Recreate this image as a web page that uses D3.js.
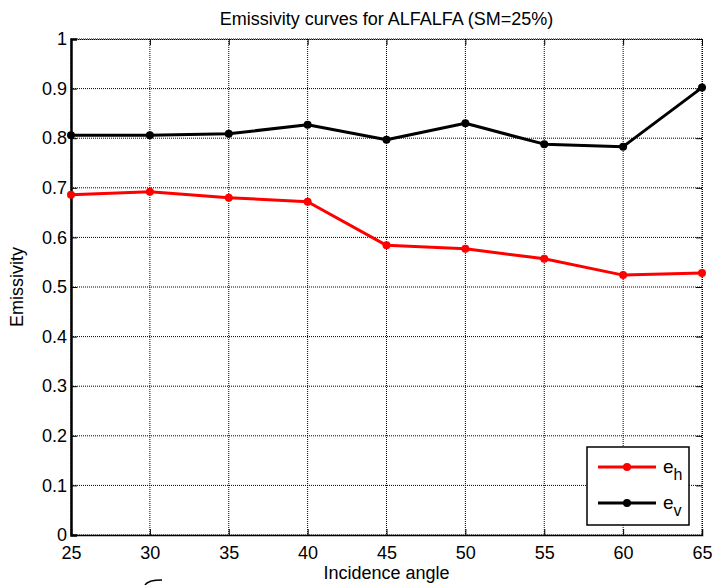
<!DOCTYPE html>
<html>
<head>
<meta charset="utf-8">
<script src="https://cdn.jsdelivr.net/npm/d3@7"></script>
<style>
  body { margin: 0; background: #fff; }
  svg { display: block; font-family: Arial, "Liberation Sans", sans-serif; }
</style>
</head>
<body>
<svg id="chart" width="712" height="585"></svg>
<script>
const angles = [25, 30, 35, 40, 45, 50, 55, 60, 65];
const eh = [0.686, 0.692, 0.680, 0.672, 0.584, 0.577, 0.557, 0.524, 0.528];
const ev = [0.806, 0.806, 0.809, 0.827, 0.797, 0.830, 0.788, 0.783, 0.902];
const xTicks = [25, 30, 35, 40, 45, 50, 55, 60, 65];
const yTicks = [0, 0.1, 0.2, 0.3, 0.4, 0.5, 0.6, 0.7, 0.8, 0.9, 1];
const seriesNames = ["h", "v"];
const seriesColors = ["#ff0000", "#000000"];

const FS = 18;
const svg = d3.select("#chart");
const L = 71, R = 702, T = 39, B = 535;
const x = d3.scaleLinear().domain([25, 65]).range([L, R]);
const y = d3.scaleLinear().domain([0, 1]).range([B, T]);

// grid
const g = svg.append("g");
g.selectAll(".vg").data(xTicks).join("line")
  .attr("x1", d => x(d)).attr("x2", d => x(d)).attr("y1", T).attr("y2", B)
  .attr("stroke", "#000").attr("stroke-width", 1).attr("stroke-dasharray", "1,1");
g.selectAll(".hg").data(yTicks).join("line")
  .attr("y1", d => y(d)).attr("y2", d => y(d)).attr("x1", L).attr("x2", R)
  .attr("stroke", "#000").attr("stroke-width", 1).attr("stroke-dasharray", "1,1");

// axes
const xAxis = d3.axisBottom(x).tickValues(xTicks).tickSize(-6).tickPadding(11).tickFormat(d3.format("d"));
const yAxis = d3.axisLeft(y).tickValues(yTicks).tickSize(-6).tickPadding(4)
  .tickFormat(d => d === 0 ? "0" : d === 1 ? "1" : d3.format(".1f")(d));
const xa = svg.append("g").attr("transform", `translate(0,${B})`).call(xAxis);
const ya = svg.append("g").attr("transform", `translate(${L},0)`).call(yAxis);
const xTop = svg.append("g").attr("transform", `translate(0,${T})`)
  .call(d3.axisTop(x).tickValues(xTicks).tickSize(-6).tickFormat(""));
const yRight = svg.append("g").attr("transform", `translate(${R},0)`)
  .call(d3.axisRight(y).tickValues(yTicks).tickSize(-6).tickFormat(""));
[xa, ya, xTop, yRight].forEach(a => {
  a.selectAll("text").attr("font-size", FS).attr("fill", "#000")
    .attr("font-family", "Arial, 'Liberation Sans', sans-serif");
  a.selectAll("line").attr("stroke", "#000");
  a.select(".domain").attr("stroke", "#000").attr("stroke-width", 1);
});
ya.select(".domain").attr("stroke-width", 2.5);
xa.select(".domain").attr("stroke-width", 1.5);
xTop.select(".domain").attr("stroke-dasharray", "1,1");
yRight.select(".domain").attr("stroke-dasharray", "1,1");

// lines
const line = d3.line().x((d, i) => x(angles[i])).y(d => y(d));
[eh, ev].forEach((vals, k) => {
  svg.append("path").datum(vals).attr("d", line)
    .attr("fill", "none").attr("stroke", seriesColors[k]).attr("stroke-width", 3)
    .attr("stroke-linejoin", "round");
  svg.append("g").selectAll("circle").data(vals).join("circle")
    .attr("cx", (d, i) => x(angles[i])).attr("cy", d => y(d)).attr("r", 4)
    .attr("fill", seriesColors[k]);
});

// title & labels
svg.append("text").attr("x", (L + R) / 2).attr("y", 25).attr("text-anchor", "middle")
  .attr("font-size", FS).text("Emissivity curves for ALFALFA (SM=25%)");
svg.append("text").attr("x", (L + R) / 2).attr("y", 579).attr("text-anchor", "middle")
  .attr("font-size", FS).text("Incidence angle");
svg.append("text").attr("transform", `translate(23,${(T + B) / 2}) rotate(-90)`)
  .attr("text-anchor", "middle").attr("font-size", FS).text("Emissivity");

// legend
const lg = svg.append("g");
lg.append("rect").attr("x", 587).attr("y", 447).attr("width", 102).attr("height", 78)
  .attr("fill", "#fff").attr("stroke", "#000").attr("stroke-width", 1.5);
seriesNames.forEach((n, k) => {
  const yy = 467 + k * 36;
  lg.append("line").attr("x1", 598).attr("x2", 656).attr("y1", yy).attr("y2", yy)
    .attr("stroke", seriesColors[k]).attr("stroke-width", 3);
  lg.append("circle").attr("cx", 627).attr("cy", yy).attr("r", 4).attr("fill", seriesColors[k]);
  const t = lg.append("text").attr("x", 663).attr("y", yy + 6).attr("font-size", 19);
  t.append("tspan").text("e");
  t.append("tspan").attr("dy", 7).attr("font-size", 16).text(n);
});

// stray pen mark under the axis
svg.append("path").attr("d", "M145,585 Q148,580 162,580").attr("fill", "none")
  .attr("stroke", "#000").attr("stroke-width", 1.5);
</script>
</body>
</html>
